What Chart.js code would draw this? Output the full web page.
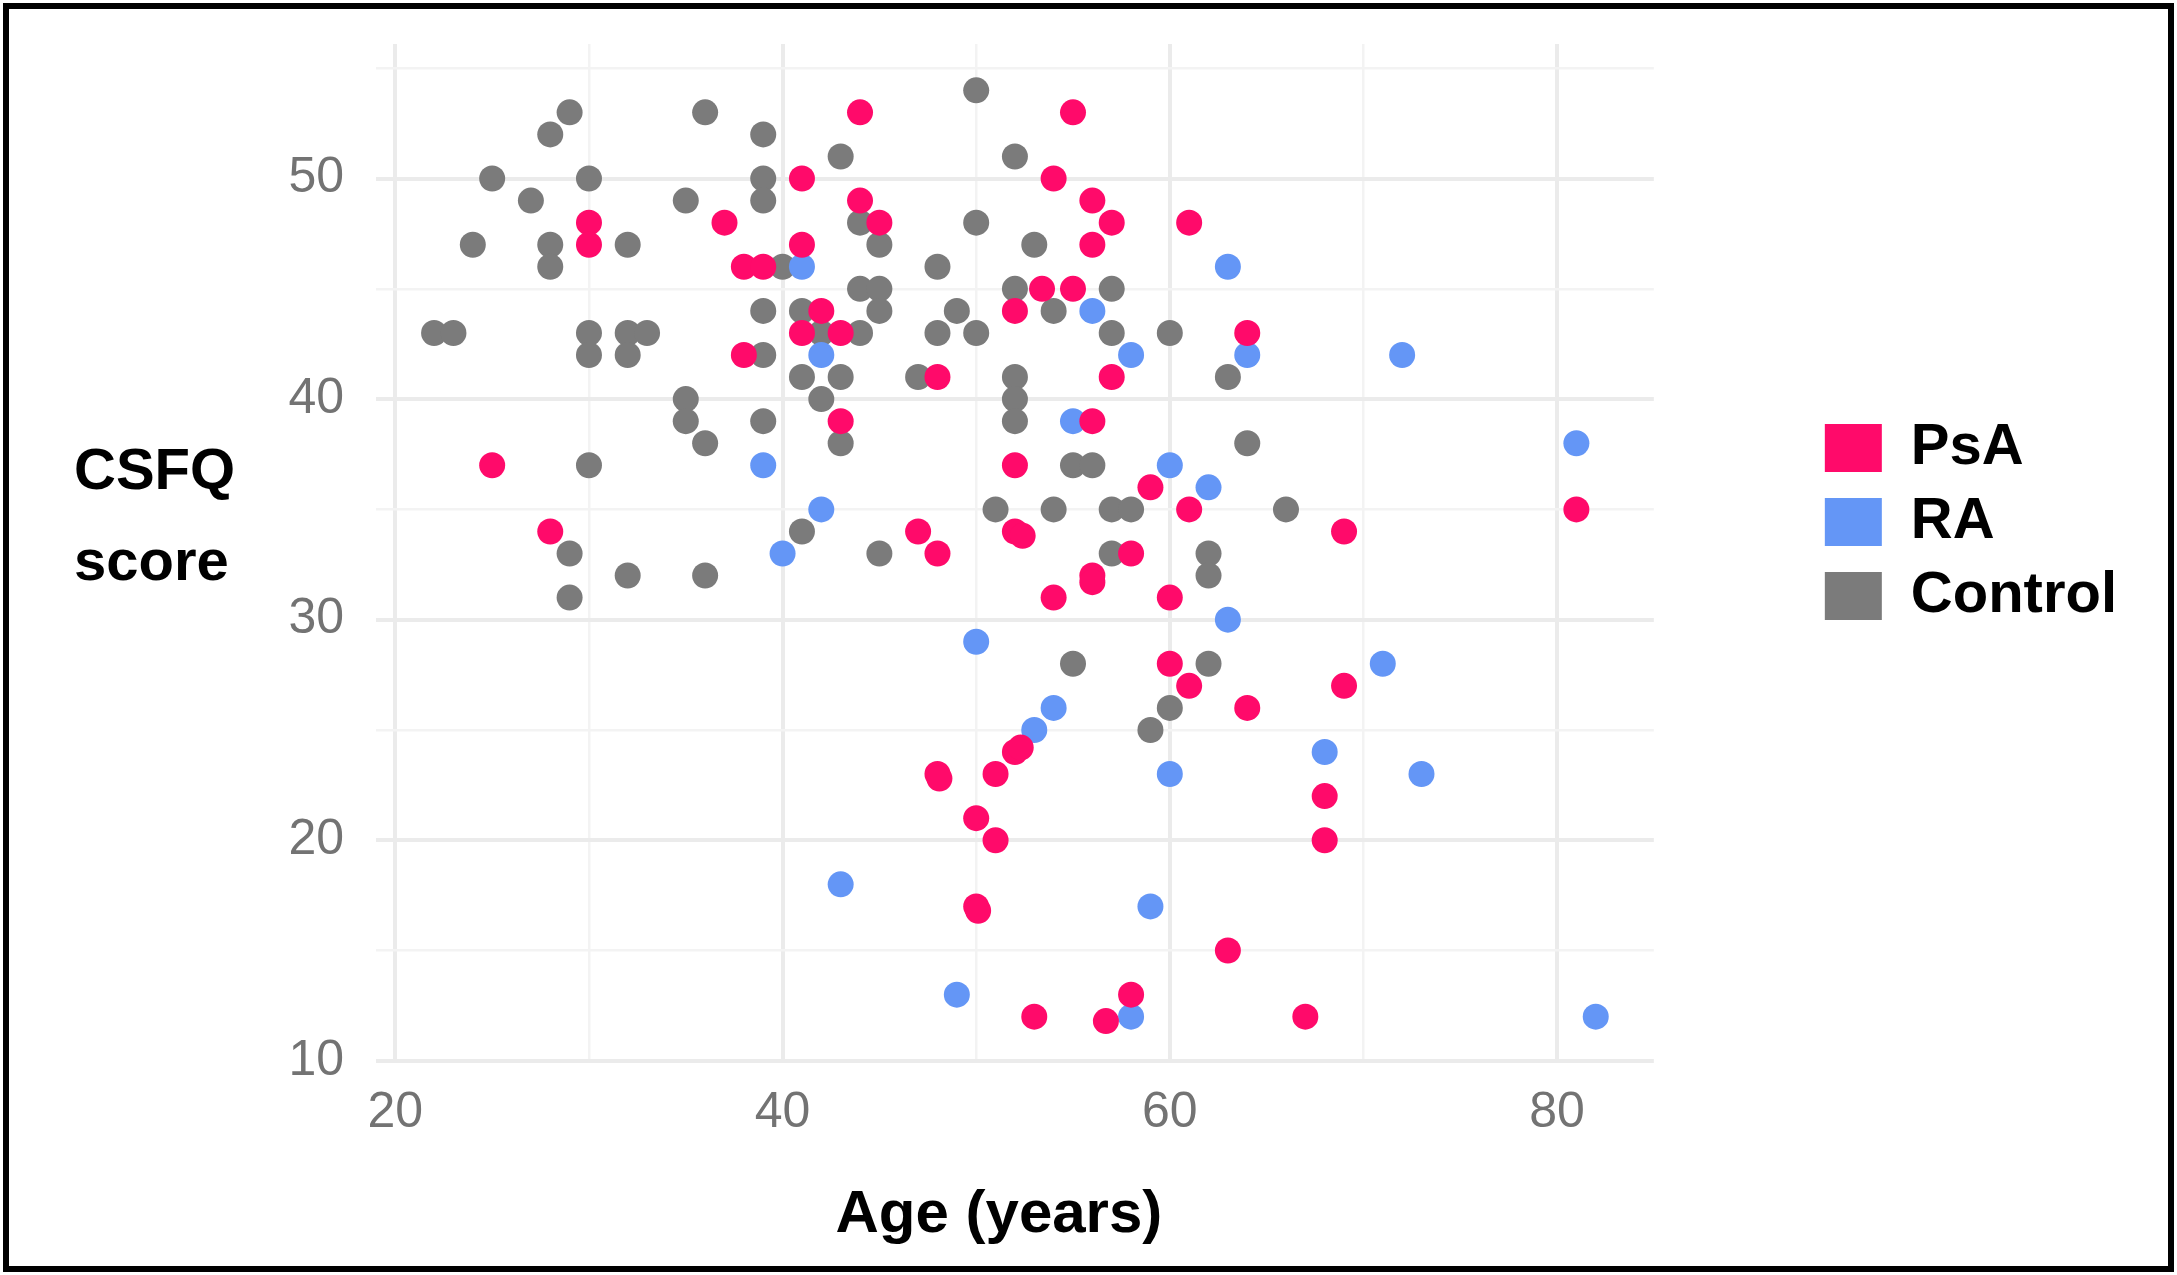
<!DOCTYPE html>
<html>
<head>
<meta charset="utf-8">
<title>CSFQ score by age</title>
<script src="https://cdn.jsdelivr.net/npm/chart.js@4.4.1/dist/chart.umd.min.js"></script>
<style>
  html, body { margin: 0; padding: 0; background: #fff; }
  #wrap { position: relative; width: 2177px; height: 1275px; }
  #frame { position: absolute; left: 3px; top: 3px; width: 2171px; height: 1269px;
           box-sizing: border-box; border: 6px solid #000; pointer-events: none; }
</style>
</head>
<body>
<div id="wrap">
  <canvas id="chart" width="2177" height="1275"></canvas>
  <div id="frame"></div>
</div>
<script>
// values
const groups = ['PsA', 'RA', 'Control'];

const psaAge   = [44,55,41,54,44,56,30,37,45,57,61,30,41,56,38,39,53.4,55,42,52,41,43,64,38,48,57,43,56,25,52,59,61,81,28,47,52,52.4,69,48,58,56,56,54,60,60,61,69,64,52,52.3,48,48.1,51,68,50,51,68,50,50.1,63,58,53,56.7,67];
const psaScore = [53,53,50,50,49,49,48,48,48,48,48,47,47,47,46,46,45,45,44,44,43,43,43,42,41,41,39,39,37,37,36,35,35,34,34,34,33.8,34,33,33,32,31.7,31,31,28,27,27,26,24,24.2,23,22.8,23,22,21,20,20,17,16.8,15,13,12,11.8,12];

const raAge   = [41,63,56,42,58,64,72,55,81,39,60,62,42,40,63,50,71,54,53,68,60,73,43,59,49,58,82];
const raScore = [46,46,44,42,42,42,42,39,38,37,37,36,35,33,30,29,28,26,25,24,23,23,18,17,13,12,12];

const ctrlAge   = [50,29,36,28,39,43,52,25,30,39,27,35,39,44,50,24,28,32,45,53,28,40,48,44,45,52,57,39,41,45,49,54,22,23,30,32,33,42,44,48,50,57,60,30,32,39,41,43,47,52,63,35,42,52,35,39,52,36,43,64,30,55,56,51,54,57,58,66,41,29,45,57,62,32,36,62,29,55,62,60,59];
const ctrlScore = [54,53,53,52,52,51,51,50,50,50,49,49,49,48,48,47,47,47,47,47,46,46,46,45,45,45,45,44,44,44,44,44,43,43,43,43,43,43,43,43,43,43,43,42,42,42,41,41,41,41,41,40,40,40,39,39,39,38,38,38,37,37,37,35,35,35,35,35,34,33,33,33,33,32,32,32,31,28,28,26,25];

// axis ticks (major get labels, minor only a grid line)
const xMajor = [20, 40, 60, 80];
const xMinor = [30, 50, 70];
const yMajor = [10, 20, 30, 40, 50];
const yMinor = [15, 25, 35, 45, 55];

const xTitle = 'Age (years)';
const yTitleLines = ['CSFQ', 'score'];

const colors = ['#ff0a6a', '#6496f6', '#7b7b7b'];
const FONT = '"Liberation Sans", Arial, sans-serif';

const pts = (xs, ys) => xs.map((x, i) => ({x, y: ys[i]}));
const series = [pts(psaAge, psaScore), pts(raAge, raScore), pts(ctrlAge, ctrlScore)];

const isMajor = (list) => (c) => list.includes(c.tick.value);
const gridStyle = (majors) => ({
  drawTicks: false,
  color: (c) => isMajor(majors)(c) ? '#ebebeb' : '#f3f3f3',
  lineWidth: (c) => isMajor(majors)(c) ? 4 : 2.5
});

// axis titles: the y one is horizontal in the original, so both are drawn by hand
const axisTitlePlugin = {
  id: 'axisTitles',
  afterDraw(chart) {
    const {ctx, chartArea} = chart;
    const midY = (chartArea.top + chartArea.bottom) / 2;
    const midX = (chartArea.left + chartArea.right) / 2;
    ctx.save();
    ctx.fillStyle = '#000';
    ctx.textBaseline = 'alphabetic';
    ctx.font = 'bold 58px ' + FONT;
    ctx.textAlign = 'left';
    ctx.fillText(yTitleLines[0], 74, midY - 65);
    ctx.fillText(yTitleLines[1], 74, midY + 26);
    ctx.font = 'bold 60px ' + FONT;
    ctx.textAlign = 'center';
    ctx.fillText(xTitle, midX - 16, chartArea.bottom + 169);
    ctx.restore();
  }
};

new Chart(document.getElementById('chart').getContext('2d'), {
  type: 'scatter',
  data: {
    datasets: groups.map((g, i) => ({
      label: g,
      data: series[i],
      backgroundColor: colors[i],
      borderColor: colors[i],
      borderWidth: 0,
      pointRadius: 13,
      pointHoverRadius: 13,
      xAxisID: 'x',
      yAxisID: 'y'
    }))
  },
  options: {
    responsive: false,
    animation: false,
    layout: { autoPadding: false, padding: { left: 0, top: 44, right: 50, bottom: 0 } },
    plugins: {
      tooltip: { enabled: false },
      legend: {
        position: 'right',
        align: 'start',
        fullSize: false,
        // empty title used as a spacer to drop the keys to mid height
        title: { display: true, text: '', font: { size: 10 }, padding: { top: 0, bottom: 347 } },
        labels: {
          boxWidth: 57,
          boxHeight: 48,
          padding: 16,
          color: '#000',
          font: { family: FONT, size: 58, weight: 'bold' }
        }
      }
    },
    scales: {
      x: {
        type: 'linear',
        min: 19, max: 85,
        afterBuildTicks: (s) => { s.ticks = xMajor.concat(xMinor).sort((a, b) => a - b).map(v => ({value: v})); },
        afterFit: (s) => { s.height = 212; },
        grid: gridStyle(xMajor),
        border: { display: false },
        ticks: {
          autoSkip: false, maxRotation: 0, padding: 20,
          color: '#737373', font: { family: FONT, size: 50 },
          callback: (v) => xMajor.includes(v) ? String(v) : ''
        }
      },
      y: {
        type: 'linear',
        min: 9.9, max: 56.1,
        afterBuildTicks: (s) => { s.ticks = yMajor.concat(yMinor).sort((a, b) => a - b).map(v => ({value: v})); },
        // fixed width, and no label overflow pushing the panel down
        afterFit: (s) => { s.width = 376; s.paddingTop = 0; s.paddingBottom = 0; },
        grid: gridStyle(yMajor),
        border: { display: false },
        ticks: {
          autoSkip: false, padding: 32,
          color: '#737373', font: { family: FONT, size: 50 },
          callback: (v) => yMajor.includes(v) ? String(v) : ''
        }
      },
      // empty strip between the panel and the legend
      gap: {
        type: 'linear',
        position: 'right',
        grid: { display: false },
        border: { display: false },
        ticks: { display: false },
        afterFit: (s) => { s.width = 155; }
      }
    }
  },
  plugins: [axisTitlePlugin]
});
</script>
</body>
</html>
